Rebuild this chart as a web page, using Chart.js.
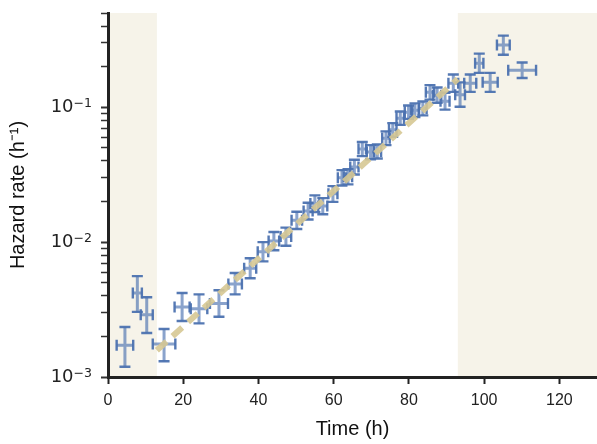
<!DOCTYPE html>
<html>
<head>
<meta charset="utf-8">
<script src="https://cdn.jsdelivr.net/npm/chart.js@4"></script>
<style>
  html, body { margin: 0; padding: 0; background: #fff; }
  #wrap { width: 597px; height: 444px; }
</style>
</head>
<body>
<div id="wrap"><canvas id="myChart" width="597" height="444"></canvas></div>
<script>
// datos
const tiempos = [4.5, 7.8, 10.3, 14.9, 19.7, 24.2, 29.5, 33.8, 37.8, 41.2, 44.1, 47.3, 50.2, 53.2, 55.0, 57.1, 59.8, 62.2, 63.8, 65.5,
  67.6, 69.8, 71.6, 73.9, 75.7, 77.7, 79.9, 81.6, 83.7, 85.6, 87.5, 89.6, 91.8, 93.6, 96.3, 98.7, 101.6, 105.1, 110.1];
const tasas = [0.00172, 0.0042, 0.0029, 0.00176, 0.0033, 0.0032, 0.0035, 0.0049, 0.0064, 0.0085, 0.0102, 0.0110, 0.0145, 0.0170, 0.0193,
  0.0185, 0.0228, 0.0300, 0.0305, 0.0360, 0.0490, 0.0465, 0.0470, 0.0590, 0.0680, 0.0830, 0.0920, 0.0950, 0.0980, 0.1290, 0.1230,
  0.1110, 0.1510, 0.1240, 0.1510, 0.2120, 0.1530, 0.2890, 0.1880];
const errTiempo = [2.2, 1.2, 1.6, 3.0, 2.0, 2.2, 2.4, 1.8, 1.6, 1.4, 1.4, 1.4, 1.4, 1.2, 1.2, 1.2, 1.2, 1.1, 1.1, 1.1,
  1.0, 1.0, 1.0, 1.0, 1.0, 1.0, 1.0, 1.0, 1.0, 1.1, 1.1, 1.2, 1.3, 1.3, 1.6, 1.1, 2.0, 1.7, 3.7];
const tasaMin = [0.00119, 0.00304, 0.00212, 0.00131, 0.0026, 0.0025, 0.0028, 0.0041, 0.0054, 0.0072, 0.0087, 0.0094, 0.0125, 0.0147,
  0.0167, 0.0161, 0.0199, 0.0263, 0.0268, 0.0317, 0.0434, 0.0412, 0.0417, 0.0524, 0.0605, 0.0740, 0.0820, 0.0845, 0.0870, 0.1140,
  0.1080, 0.0960, 0.1300, 0.1010, 0.1300, 0.1800, 0.1300, 0.2450, 0.1650];
const tasaMax = [0.00235, 0.0056, 0.0039, 0.00227, 0.0042, 0.0041, 0.0044, 0.0059, 0.0076, 0.0100, 0.0119, 0.0128, 0.0168, 0.0196,
  0.0222, 0.0212, 0.0260, 0.0342, 0.0347, 0.0408, 0.0552, 0.0524, 0.0529, 0.0663, 0.0763, 0.0930, 0.1030, 0.1068, 0.1104, 0.1460,
  0.1400, 0.1280, 0.1750, 0.1530, 0.1750, 0.2500, 0.1800, 0.3400, 0.2150];

// ajuste exponencial (extremos leidos)
const ajusteX = [13, 93];
const ajusteY = [0.00158, 0.162];

// zonas sombreadas
const zonas = [[0, 13], [93, 130]];

const ticksX = [0, 20, 40, 60, 80, 100, 120];
const ticksY = [0.001, 0.002, 0.003, 0.004, 0.005, 0.006, 0.007, 0.008, 0.009,
  0.01, 0.02, 0.03, 0.04, 0.05, 0.06, 0.07, 0.08, 0.09,
  0.1, 0.2, 0.3, 0.4, 0.5];
const mayoresY = [0.001, 0.01, 0.1];
const exponentesY = ['\u22123', '\u22122', '\u22121'];

const azul = '76, 114, 176';
const fuente = 'Liberation Sans';

const zonasPlugin = {
  id: 'zonas',
  beforeDraw(chart) {
    const { ctx, chartArea, scales } = chart;
    ctx.save();
    ctx.fillStyle = '#f6f3e9';
    zonas.forEach(z => {
      const x0 = scales.x.getPixelForValue(z[0]);
      const x1 = scales.x.getPixelForValue(z[1]);
      ctx.fillRect(x0, chartArea.top, x1 - x0, chartArea.bottom - chartArea.top);
    });
    ctx.restore();
  },
  beforeDatasetsDraw(chart) {
    const { ctx, scales } = chart;
    ctx.save();
    // barras de error
    const cap = 5.5;
    tiempos.forEach((t, i) => {
      const px = scales.x.getPixelForValue(t);
      const py = scales.y.getPixelForValue(tasas[i]);
      const xl = scales.x.getPixelForValue(t - errTiempo[i]);
      const xr = scales.x.getPixelForValue(t + errTiempo[i]);
      const yl = scales.y.getPixelForValue(tasaMin[i]);
      const yh = scales.y.getPixelForValue(tasaMax[i]);
      ctx.strokeStyle = 'rgba(' + azul + ', 0.65)';
      ctx.lineWidth = 3;
      ctx.beginPath();
      ctx.moveTo(xl, py); ctx.lineTo(xr, py);
      ctx.moveTo(px, yl); ctx.lineTo(px, yh);
      ctx.stroke();
      ctx.strokeStyle = 'rgba(' + azul + ', 0.95)';
      ctx.lineWidth = 2.4;
      ctx.beginPath();
      ctx.moveTo(xl, py - cap); ctx.lineTo(xl, py + cap);
      ctx.moveTo(xr, py - cap); ctx.lineTo(xr, py + cap);
      ctx.moveTo(px - cap, yl); ctx.lineTo(px + cap, yl);
      ctx.moveTo(px - cap, yh); ctx.lineTo(px + cap, yh);
      ctx.stroke();
    });
    ctx.restore();
  },
  afterDraw(chart) {
    // etiquetas 10^n con exponente
    const { ctx, scales } = chart;
    ctx.save();
    ctx.fillStyle = '#222';
    mayoresY.forEach((v, i) => {
      const y = scales.y.getPixelForValue(v);
      const derecha = 92;
      ctx.font = '12.5px "DejaVu Sans"';
      ctx.textAlign = 'right';
      ctx.textBaseline = 'alphabetic';
      const ancho = ctx.measureText(exponentesY[i]).width;
      ctx.fillText(exponentesY[i], derecha, y - 0.5);
      ctx.font = '18px "DejaVu Sans"';
      ctx.textBaseline = 'middle';
      ctx.fillText('10', derecha - ancho, y + 0.5);
    });
    ctx.restore();
  }
};

const ctx = document.getElementById('myChart');
new Chart(ctx, {
  type: 'scatter',
  data: {
    datasets: [{
      label: 'Puntos',
      data: tiempos.map((t, i) => ({ x: t, y: tasas[i] })),
      pointRadius: 0,
      showLine: false
    }, {
      label: 'Ajuste',
      data: ajusteX.map((t, i) => ({ x: t, y: ajusteY[i] })),
      showLine: true,
      pointRadius: 0,
      borderColor: 'rgba(214, 200, 148, 0.9)',
      borderWidth: 6,
      borderDash: [13, 8]
    }]
  },
  options: {
    responsive: false,
    animation: false,
    layout: { padding: { top: 12, right: 0, left: 0, bottom: 0 } },
    plugins: {
      legend: { display: false },
      tooltip: { enabled: false }
    },
    scales: {
      x: {
        type: 'linear',
        min: 0,
        max: 130,
        afterBuildTicks: scale => { scale.ticks = ticksX.map(v => ({ value: v })); },
        afterFit: scale => { scale.height = 67; },
        grid: { drawOnChartArea: false, tickLength: 7, tickWidth: 2, tickColor: '#222' },
        border: { color: '#222', width: 3 },
        ticks: { color: '#222', font: { family: fuente, size: 16 }, padding: 7 },
        title: { display: true, text: 'Time (h)', color: '#111', font: { family: fuente, size: 20, lineHeight: 1.05 }, padding: { top: 6 } }
      },
      y: {
        type: 'logarithmic',
        min: 0.001,
        max: 0.5,
        afterBuildTicks: scale => { scale.ticks = ticksY.map(v => ({ value: v })); },
        afterFit: scale => { scale.width = 108; },
        grid: {
          drawOnChartArea: false, tickLength: 7, tickColor: '#333',
          tickWidth: c => (c.tick && mayoresY.includes(c.tick.value) ? 2 : 1.5)
        },
        border: { color: '#222', width: 3 },
        ticks: {
          autoSkip: false,
          color: '#222',
          font: { family: fuente, size: 15 },
          padding: 4,
          callback: () => ''
        },
        title: { display: true, text: 'Hazard rate (h\u207B\u00B9)', color: '#111', font: { family: fuente, size: 20 }, padding: { top: 6, bottom: 6 } }
      }
    }
  },
  plugins: [zonasPlugin]
});
</script>
</body>
</html>
